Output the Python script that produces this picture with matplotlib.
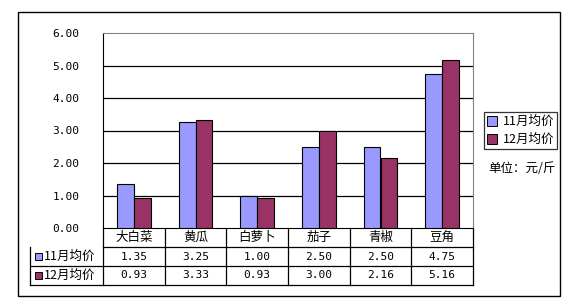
import matplotlib.pyplot as plt
import matplotlib.patches as mpatches
import numpy as np

plt.rcParams['font.family'] = ['Noto Sans CJK SC', 'DejaVu Sans']

categories = ["大白菜", "黄瓜", "白萝卜", "茄子", "青椒", "豆角"]
nov_price = [1.35, 3.25, 1.00, 2.50, 2.50, 4.75]
dec_price = [0.93, 3.33, 0.93, 3.00, 2.16, 5.16]
series_names = ["11月均价", "12月均价"]
colors = ["#9999FF", "#993366"]
yticks = [0, 1, 2, 3, 4, 5, 6]

W, H = 575, 305
num_font = dict(family="DejaVu Sans Mono", fontsize=8)

fig = plt.figure(figsize=(W / 100, H / 100), dpi=100)

# outer frame
fig.patches.append(mpatches.Rectangle((18 / W, 1 - 296 / H), (560 - 18) / W, (296 - 12) / H,
                                      transform=fig.transFigure, fill=False,
                                      edgecolor="black", linewidth=1.0))

ax = fig.add_axes([103 / W, 1 - 228 / H, 370 / W, 195 / H])
x = np.arange(len(categories))
bw = 0.275
ax.bar(x - bw / 2, nov_price, bw, color=colors[0], edgecolor="black", linewidth=0.8, zorder=3)
ax.bar(x + bw / 2, dec_price, bw, color=colors[1], edgecolor="black", linewidth=0.8, zorder=3)

ax.set_xlim(-0.5, len(categories) - 0.5)
ax.set_ylim(0, 6)
ax.set_yticks(yticks)
ax.set_yticklabels(["%.2f" % v for v in yticks], **num_font)
ax.tick_params(axis="y", length=0, pad=17)
ax.set_xticks([])
for v in yticks[1:6]:
    ax.axhline(v, color="black", linewidth=0.9, zorder=1)
ax.spines["left"].set_color("black")
ax.spines["bottom"].set_color("black")
ax.spines["top"].set_color("#808080")
ax.spines["right"].set_color("#808080")

# data table below the plot
def ay(ypix):
    return (228 - ypix) / 195.0

tl = (29.5 - 103) / 370.0
row_lines = [228, 247, 266, 285]
kw = dict(transform=ax.transAxes, color="black", linewidth=0.9, clip_on=False)
for r in row_lines[1:]:
    ax.plot([tl if r > 247 else 0, 1], [ay(r), ay(r)], **kw)
ax.plot([tl, tl], [ay(247), ay(285)], **kw)
for i in range(len(categories) + 1):
    xa = i / len(categories)
    ax.plot([xa, xa], [ay(228), ay(285)], **kw)

for i, c in enumerate(categories):
    ax.text((i + 0.5) / len(categories), ay(237.5), c, transform=ax.transAxes,
            ha="center", va="center", fontsize=9)
for row, vals in enumerate([nov_price, dec_price]):
    yc = ay(256.5 + row * 19)
    for i, v in enumerate(vals):
        ax.text((i + 0.5) / len(categories), yc, "%.2f" % v, transform=ax.transAxes,
                ha="center", va="center", **num_font)
    ax.add_patch(mpatches.Rectangle((tl + 5 / 370, yc - 3.5 / 195), 7 / 370, 7 / 195,
                                    transform=ax.transAxes, facecolor=colors[row],
                                    edgecolor="black", linewidth=0.7, clip_on=False))
    ax.text(tl + 14 / 370, yc, series_names[row], transform=ax.transAxes,
            ha="left", va="center", fontsize=9)

# legend
handles = [mpatches.Patch(facecolor=colors[i], edgecolor="black", linewidth=0.7)
           for i in range(2)]
leg = fig.legend(handles, series_names, loc="upper left",
                 bbox_to_anchor=(484 / W, 1 - 112 / H), fontsize=9,
                 frameon=True, fancybox=False, edgecolor="black",
                 handlelength=0.8, handleheight=0.8, handletextpad=0.45,
                 borderpad=0.25, labelspacing=0.4, borderaxespad=0)
leg.get_frame().set_linewidth(0.9)

fig.text(522 / W, 1 - 168 / H, "单位：元/斤", ha="center", va="center", fontsize=9)

fig.savefig("out.png", dpi=100)
